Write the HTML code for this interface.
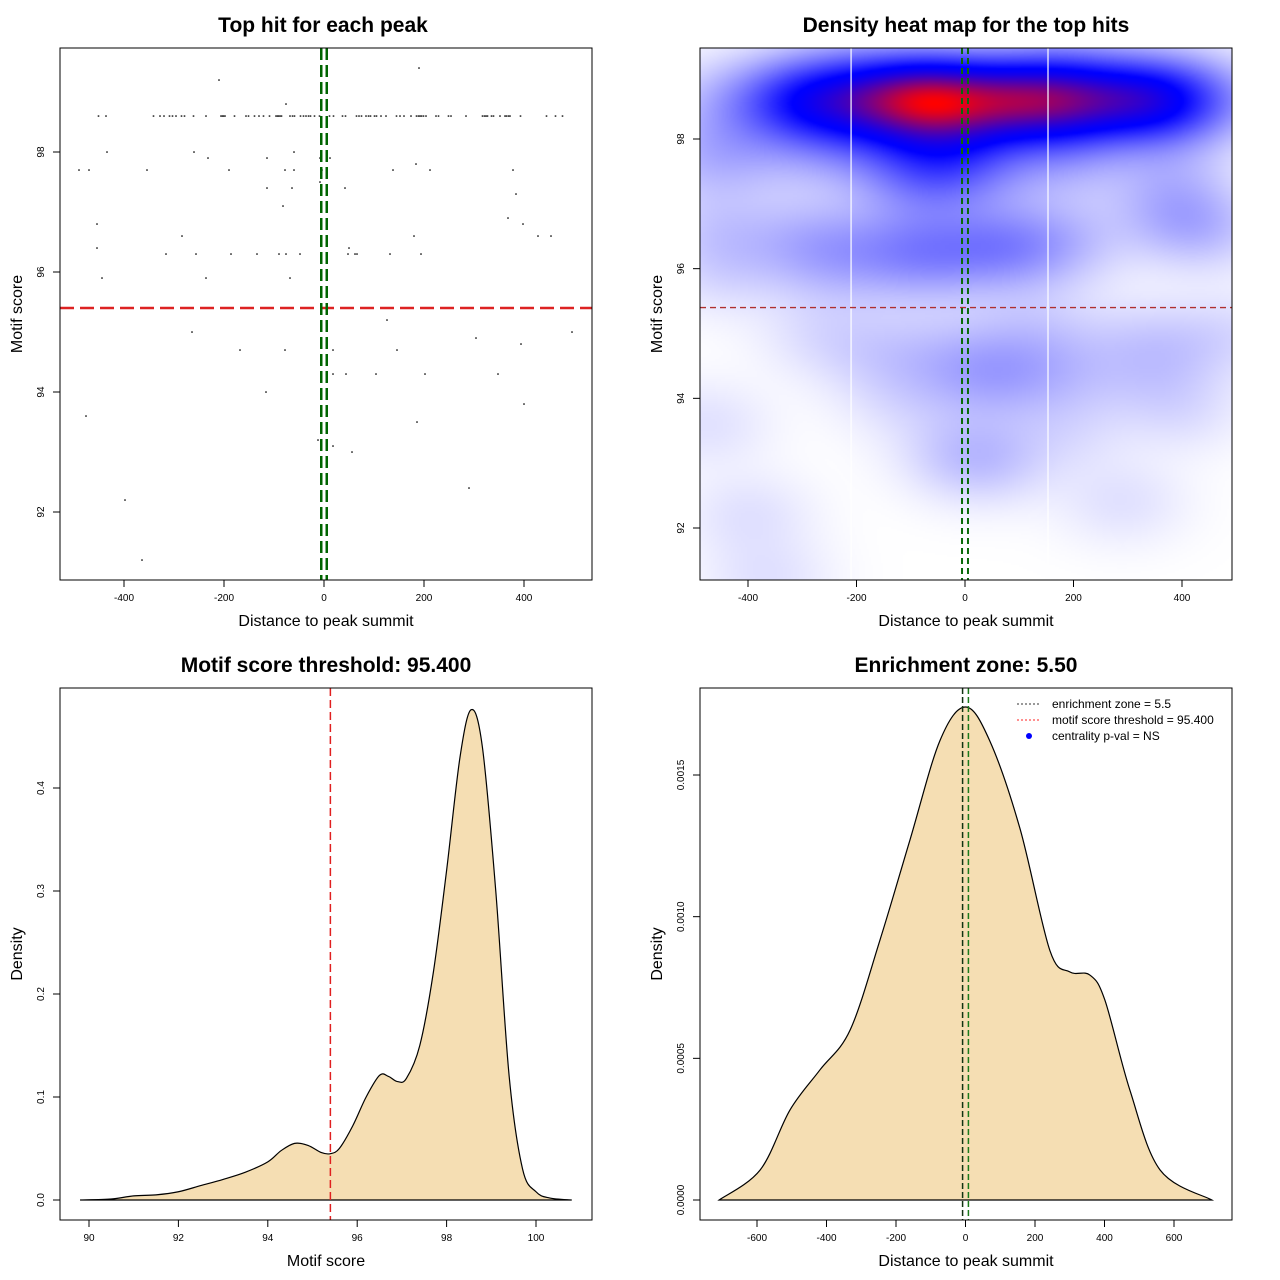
<!DOCTYPE html>
<html><head><meta charset="utf-8">
<style>
html,body{margin:0;padding:0;background:#fff;}
#wrap{position:relative;width:1280px;height:1280px;font-family:"Liberation Sans",sans-serif;}
#heat{position:absolute;left:700px;top:48px;width:532px;height:532px;}
svg{position:absolute;left:0;top:0;}
text{font-family:"Liberation Sans",sans-serif;fill:#000;}
</style></head>
<body>
<div id="wrap">
<canvas id="heat" width="266" height="266"></canvas>
<svg id="svg" width="1280" height="1280" xmlns="http://www.w3.org/2000/svg">
<text x="323" y="32" text-anchor="middle" font-size="21" font-weight="bold">Top hit for each peak</text>
<text x="966" y="32" text-anchor="middle" font-size="21" font-weight="bold">Density heat map for the top hits</text>
<text x="326" y="672" text-anchor="middle" font-size="21" font-weight="bold">Motif score threshold: 95.400</text>
<text x="966" y="672" text-anchor="middle" font-size="21" font-weight="bold">Enrichment zone: 5.50</text>
<text x="326" y="626" text-anchor="middle" font-size="16">Distance to peak summit</text>
<text x="966" y="626" text-anchor="middle" font-size="16">Distance to peak summit</text>
<text x="326" y="1266" text-anchor="middle" font-size="16">Motif score</text>
<text x="966" y="1266" text-anchor="middle" font-size="16">Distance to peak summit</text>
<text transform="translate(22,314) rotate(-90)" text-anchor="middle" font-size="16">Motif score</text>
<text transform="translate(662,314) rotate(-90)" text-anchor="middle" font-size="16">Motif score</text>
<text transform="translate(22,954) rotate(-90)" text-anchor="middle" font-size="16">Density</text>
<text transform="translate(662,954) rotate(-90)" text-anchor="middle" font-size="16">Density</text>
<g id="layer"></g>
</svg>
</div>
<script>
// ---- scatter data ----
const rowScore = 98.6;
const rowX = [-451,-436,-341,-328,-320,-309,-303,-296,-285,-279,-261,-236,-206,-203,-201,-198,-179,-156,-151,-139,-130,-121,-109,-96,-93,-91,-88,-85,-68,-63,-59,-47,-41,-36,-31,-27,-19,-9,11,19,37,43,65,70,75,84,89,93,101,105,114,124,145,152,160,174,185,189,192,195,199,204,224,229,249,254,284,317,321,324,327,335,339,352,362,365,369,372,393,445,463,477];
const otherX = [-490,-470,-454,-454,-444,-434,-476,-398,-364,-354,-316,-284,-264,-260,-256,-236,-232,-210,-190,-186,-168,-134,-116,-114,-114,-90,-82,-78,-78,-76,-76,-68,-64,-60,-60,-48,-12,-8,-8,-4,12,18,18,18,42,44,50,48,56,62,66,104,126,132,138,146,180,184,186,190,194,202,212,290,304,348,368,378,384,394,398,400,428,454,496];
const otherY = [97.7,97.7,96.8,96.4,95.9,98.0,93.6,92.2,91.2,97.7,96.3,96.6,95.0,98.0,96.3,95.9,97.9,99.2,97.7,96.3,94.7,96.3,94.0,97.9,97.4,96.3,97.1,94.7,97.7,98.8,96.3,95.9,97.4,97.7,98.0,96.3,93.2,97.9,97.5,97.7,97.9,94.7,94.3,93.1,97.4,94.3,96.4,96.3,93.0,96.3,96.3,94.3,95.2,96.3,97.7,94.7,96.6,97.8,93.5,99.4,96.3,94.3,97.7,92.4,94.9,94.3,96.9,97.7,97.3,94.8,96.8,93.8,96.6,96.6,95.0];
const scoreThreshold = 95.4;
const enrichZone = 5.5;
// ---- motif score density ----
const motifX = [89.8,90.5,91,91.5,92,92.5,93,93.5,94,94.3,94.6,94.9,95.2,95.4,95.6,95.9,96.2,96.5,96.7,96.9,97.1,97.4,97.7,98.0,98.3,98.55,98.8,99.1,99.4,99.7,100,100.3,100.8];
const motifD = [0,0.001,0.004,0.005,0.008,0.014,0.02,0.027,0.037,0.048,0.055,0.053,0.046,0.045,0.05,0.072,0.1,0.121,0.12,0.115,0.118,0.15,0.22,0.32,0.43,0.476,0.44,0.3,0.12,0.03,0.008,0.002,0];
// ---- distance density ----
const distX = [-709,-591,-505,-419,-332,-246,-160,-74,0,70,157,243,300,358,401,473,560,709];
const distD = [0,0.000106,0.000318,0.000459,0.0006,0.000918,0.00127,0.00162,0.00174,0.00162,0.00131,0.00088,0.000805,0.000794,0.000706,0.000388,0.000106,0];
// ---- ticks ----
const distTicks = [-400,-200,0,200,400];
const scoreTicks = [92,94,96,98];
const motifTicks = [90,92,94,96,98,100];
const motifDTicks = [0.0,0.1,0.2,0.3,0.4];
const motifDLabels = ["0.0","0.1","0.2","0.3","0.4"];
const dist2Ticks = [-600,-400,-200,0,200,400,600];
const distDTicks = [0,0.0005,0.001,0.0015];
const distDLabels = ["0.0000","0.0005","0.0010","0.0015"];

const NS="http://www.w3.org/2000/svg";
const layer=document.getElementById('layer');
function mk(tag,attrs,parent){const e=document.createElementNS(NS,tag);for(const k in attrs)e.setAttribute(k,attrs[k]);(parent||layer).appendChild(e);return e;}
function lin(d0,d1,p0,p1){return v=>p0+(v-d0)*(p1-p0)/(d1-d0);}

const sx1=lin(-400,400,124,524), sy1=lin(98,92,152,512);
const sx2=lin(-400,400,748,1182), sy2=lin(98,92,139,528);
const sx3=lin(90,100,89,536), sy3=lin(0,0.4,1200,788);
const sx4=lin(-600,600,757,1174), sy4=lin(0,0.0015,1200,775);

function xAxis(ticks,sx,labels,name){
  const g=mk('g',{});
  
  
  const y0=name.includes('bottom')?1220:580;
  mk('line',{x1:sx(ticks[0]),x2:sx(ticks[ticks.length-1]),y1:y0,y2:y0,stroke:'#000'},g);
  ticks.forEach((t,i)=>{
    mk('line',{x1:sx(t),x2:sx(t),y1:y0,y2:y0+7,stroke:'#000'},g);
    const tx=mk('text',{x:sx(t),y:y0+21,'text-anchor':'middle','font-size':10},g);
    tx.textContent=labels?labels[i]:String(t);
  });
}
function yAxis(ticks,sy,x0,labels,name){
  const g=mk('g',{});
  
  
  ticks.forEach((t,i)=>{
    mk('line',{x1:x0,x2:x0-7,y1:sy(t),y2:sy(t),stroke:'#000'},g);
    const tx=mk('text',{transform:`translate(${x0-16},${sy(t)}) rotate(-90)`,'text-anchor':'middle','font-size':10},g);
    tx.textContent=labels?labels[i]:String(t);
  });
  mk('line',{x1:x0,x2:x0,y1:sy(ticks[0]),y2:sy(ticks[ticks.length-1]),stroke:'#000'},g);
}
function curvePath(xs,ys,sx,sy){
  const P=xs.map((x,i)=>[sx(x),sy(ys[i])]);
  let d=`M${P[0][0]},${P[0][1]}`;
  for(let i=0;i<P.length-1;i++){
    const p0=P[Math.max(i-1,0)],p1=P[i],p2=P[i+1],p3=P[Math.min(i+2,P.length-1)];
    const c1=[p1[0]+(p2[0]-p0[0])/6,p1[1]+(p2[1]-p0[1])/6];
    const c2=[p2[0]-(p3[0]-p1[0])/6,p2[1]-(p3[1]-p1[1])/6];
    d+=`C${c1[0]},${c1[1]} ${c2[0]},${c2[1]} ${p2[0]},${p2[1]}`;
  }
  return d;
}

// ===== Panel 1 =====
const pts=mk('g',{});


rowX.forEach(x=>{mk('rect',{x:sx1(x)-0.8,y:sy1(rowScore)-0.6,width:1.6,height:1.3,fill:'#000'},pts);});
otherX.forEach((x,i)=>{mk('rect',{x:sx1(x)-0.8,y:sy1(otherY[i])-0.6,width:1.6,height:1.3,fill:'#000'},pts);});
const th1=mk('line',{x1:60,x2:592,y1:sy1(scoreThreshold),y2:sy1(scoreThreshold),stroke:'#dd2222','stroke-width':2.5,'stroke-dasharray':'14,6'});


[-enrichZone,enrichZone].forEach(v=>{
  const l=mk('line',{x1:sx1(v),x2:sx1(v),y1:48,y2:580,stroke:'#006400','stroke-width':2.5,'stroke-dasharray':'12,5'});
  
  
});
const b1=mk('rect',{x:60,y:48,width:532,height:532,fill:'none',stroke:'#000'});


xAxis(distTicks,sx1,null,'x-axis-scatter');
yAxis(scoreTicks,sy1,60,null,'y-axis-scatter');

// ===== Panel 2: heatmap =====
(function(){
  const cv=document.getElementById('heat');const ctx=cv.getContext('2d');
  const W=cv.width,H=cv.height;
  const allX=rowX.concat(otherX), allY=rowX.map(()=>rowScore).concat(otherY);
  const xmin=(700-965)/0.5425, xmax=(1232-965)/0.5425;
  const ymax=98+(139-48)/64.83, ymin=98-(580-139)/64.83;
  const bx=80, by=0.45;
  const grid=new Float32Array(W*H);let mx=0;
  for(let j=0;j<H;j++){const yv=ymax-(j+0.5)/H*(ymax-ymin);
    for(let i=0;i<W;i++){const xv=xmin+(i+0.5)/W*(xmax-xmin);let s=0;
      for(let k=0;k<allX.length;k++){const dx=(xv-allX[k])/bx,dy=(yv-allY[k])/by;const q=dx*dx+dy*dy;if(q<25)s+=Math.exp(-0.5*q);}
      grid[j*W+i]=s;if(s>mx)mx=s;}}
  const img=ctx.createImageData(W,H);
  for(let p=0;p<W*H;p++){let t=Math.pow(grid[p]/mx,0.85);let r,g,b;
    if(t<0.55){const u=Math.min(1,t/0.55);r=255*(1-u);g=255*(1-u);b=255;}
    else{const u=Math.min(1,Math.pow((t-0.55)/0.45,1.6));r=255*u;g=0;b=255*(1-u);}
    img.data[p*4]=r;img.data[p*4+1]=g;img.data[p*4+2]=b;img.data[p*4+3]=255;}
  ctx.putImageData(img,0,0);
})();
[-210,153].forEach(v=>{const l=mk('line',{x1:sx2(v),x2:sx2(v),y1:48,y2:580,stroke:'#fff','stroke-width':1.2});
  
  });
const th2=mk('line',{x1:700,x2:1232,y1:sy2(scoreThreshold),y2:sy2(scoreThreshold),stroke:'#b03030','stroke-width':1.3,'stroke-dasharray':'6,4'});


[-enrichZone,enrichZone].forEach(v=>{
  const l=mk('line',{x1:sx2(v),x2:sx2(v),y1:48,y2:580,stroke:'#0a6a0a','stroke-width':2,'stroke-dasharray':'6,4'});
  
  
});
const b2=mk('rect',{x:700,y:48,width:532,height:532,fill:'none',stroke:'#000'});


xAxis(distTicks,sx2,null,'x-axis-heatmap');
yAxis(scoreTicks,sy2,700,null,'y-axis-heatmap');

// ===== Panel 3 =====
const a3=mk('path',{d:curvePath(motifX,motifD,sx3,sy3)+'Z',fill:'#F5DEB3',stroke:'#000','stroke-width':1.2});


const th3=mk('line',{x1:sx3(scoreThreshold),x2:sx3(scoreThreshold),y1:688,y2:1220,stroke:'#e02020','stroke-width':1.5,'stroke-dasharray':'8,4'});


const b3=mk('rect',{x:60,y:688,width:532,height:532,fill:'none',stroke:'#000'});


xAxis(motifTicks,sx3,null,'x-axis-bottom-motif');
yAxis(motifDTicks,sy3,60,motifDLabels,'y-axis-motif-density');

// ===== Panel 4 =====
const a4=mk('path',{d:curvePath(distX,distD,sx4,sy4)+'Z',fill:'#F5DEB3',stroke:'#000','stroke-width':1.2});


[-enrichZone,enrichZone].forEach((v,i)=>{
  const l=mk('line',{x1:sx4(v)+(i?1:-1),x2:sx4(v)+(i?1:-1),y1:688,y2:1220,stroke:i?'#1a7a1a':'#113311','stroke-width':1.5,'stroke-dasharray':'6,3'});
  
  
});
const b4=mk('rect',{x:700,y:688,width:532,height:532,fill:'none',stroke:'#000'});


xAxis(dist2Ticks,sx4,null,'x-axis-bottom-distance');
yAxis(distDTicks,sy4,700,distDLabels,'y-axis-distance-density');

const lg=mk('g',{});


const legTexts=['enrichment zone = 5.5','motif score threshold = 95.400','centrality p-val = NS'];
legTexts.forEach((t,i)=>{
  const y=704+i*16;
  const e=mk('g',{},lg);
  
  
  if(i===0)mk('line',{x1:1017,x2:1041,y1:y,y2:y,stroke:'#333','stroke-dasharray':'2,2'},e);
  if(i===1)mk('line',{x1:1017,x2:1041,y1:y,y2:y,stroke:'#ff2020','stroke-dasharray':'2,2'},e);
  if(i===2)mk('circle',{cx:1029,cy:y,r:3,fill:'#0000ff'},e);
  const tx=mk('text',{x:1052,y:y+4,'font-size':12},e);tx.textContent=t;
});
</script>
</body></html>
